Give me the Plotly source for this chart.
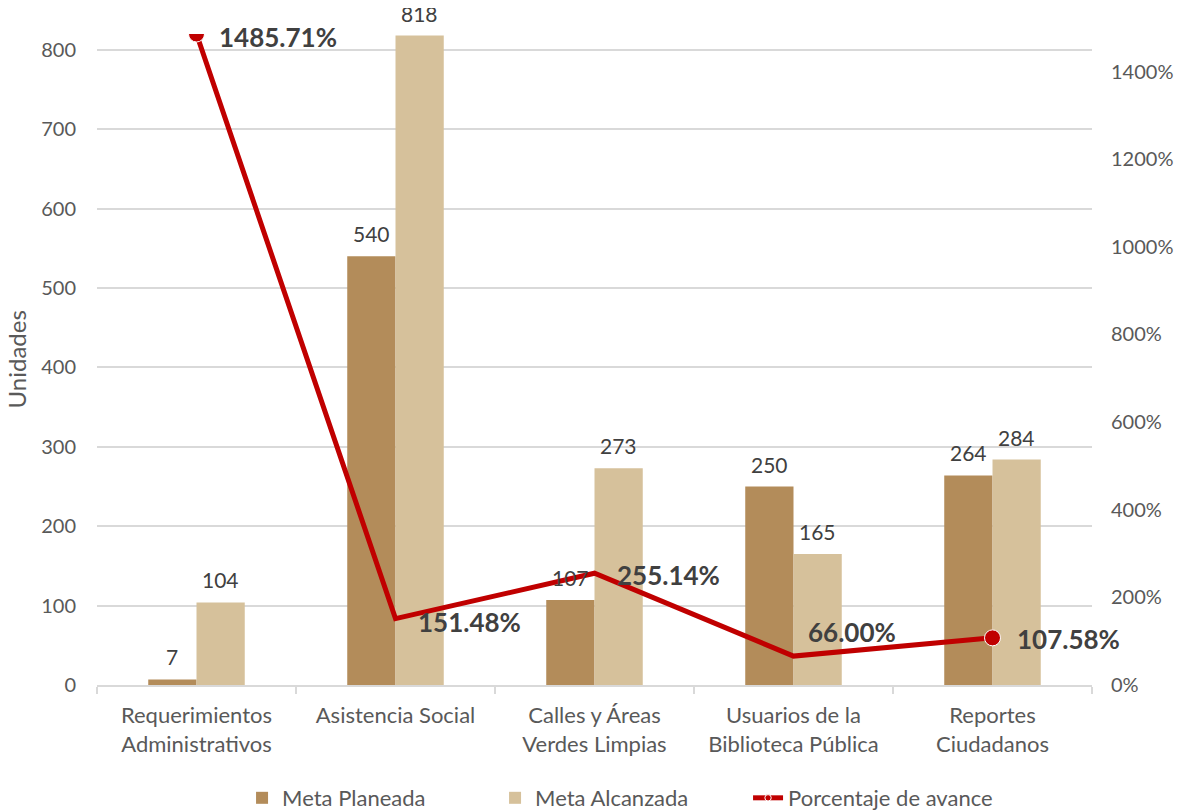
import plotly.graph_objects as go

categories = ["Requerimientos<br>Administrativos", "Asistencia Social",
              "Calles y Áreas<br>Verdes Limpias", "Usuarios de la<br>Biblioteca Pública",
              "Reportes<br>Ciudadanos"]
meta_planeada = [7, 540, 107, 250, 264]
meta_alcanzada = [104, 818, 273, 165, 284]
porcentaje = [1485.71, 151.48, 255.14, 66.00, 107.58]
pct_labels = ["1485.71%", "151.48%", "255.14%", "66.00%", "107.58%"]

# label offsets (pixels) for the percentage labels
lab_dx = [20, 20, 20, 12, 22]
lab_dy = [-3, -3, -2, 24, -1]
marker_sizes = [16, 0, 0, 0, 16]

FONT = "Lato"
GRAY = "#595959"
DARK = "#404040"
GRID = "#D9D9D9"
C_PLAN = "#B38C5A"
C_ALC = "#D6C19B"
C_RED = "#C00000"

W, H = 1196, 804
ML, MR, MT, MB = 89, 112, 26, 127
BARGAP = 0.515
cat_px = (W - ML - MR) / len(categories)
bar_off = cat_px * (1 - BARGAP) / 4

fig = go.Figure()
fig.add_trace(go.Bar(
    x=categories, y=meta_planeada, name="Meta Planeada",
    marker=dict(color=C_PLAN, line=dict(width=0)),
))
fig.add_trace(go.Bar(
    x=categories, y=meta_alcanzada, name="Meta Alcanzada",
    marker=dict(color=C_ALC, line=dict(width=0)),
))
fig.add_trace(go.Scatter(
    x=categories, y=porcentaje, name="Porcentaje de avance", yaxis="y2",
    mode="lines+markers",
    line=dict(color=C_RED, width=5),
    marker=dict(color=C_RED, size=marker_sizes, opacity=1),
    cliponaxis=True,
))

# bar value labels
for series, sign in ((meta_planeada, -1), (meta_alcanzada, 1)):
    for i in range(len(categories)):
        fig.add_annotation(
            x=categories[i], y=series[i], xref="x", yref="y",
            text=str(series[i]), showarrow=False,
            xanchor="center", yanchor="bottom", xshift=sign * bar_off, yshift=8,
            font=dict(family=FONT, size=21, color=DARK),
        )

for i in range(len(categories)):
    fig.add_annotation(
        x=categories[i], y=porcentaje[i], yref="y2", xref="x",
        text="<b>" + pct_labels[i] + "</b>", showarrow=False,
        xanchor="left", yanchor="middle", xshift=lab_dx[i], yshift=lab_dy[i],
        font=dict(family=FONT, size=26, color=DARK),
    )

# axis titles
fig.add_annotation(
    x=0.0, xref="paper", y=0.5, yref="paper", xshift=-81, text="Unidades",
    textangle=-90, showarrow=False, xanchor="center", yanchor="middle",
    font=dict(family=FONT, size=24, color=GRAY),
)
fig.add_annotation(
    x=1.0, xref="paper", y=0.5, yref="paper", xshift=106, text="Avance",
    textangle=-90, showarrow=False, xanchor="left", yanchor="middle",
    font=dict(family=FONT, size=24, color=GRAY),
)

fig.update_layout(
    width=W, height=H,
    margin=dict(l=ML, r=MR, t=MT, b=MB, autoexpand=False),
    paper_bgcolor="white", plot_bgcolor="white",
    barmode="group", bargap=BARGAP, bargroupgap=0,
    font=dict(family=FONT, size=22, color=GRAY),
    showlegend=True,
    legend=dict(orientation="h", x=0.513, xanchor="center", xref="container",
                y=0.0174, yanchor="middle", yref="container",
                font=dict(family=FONT, size=22, color=GRAY),
                traceorder="normal", itemwidth=30,
                entrywidth=208, entrywidthmode="pixels"),
    xaxis=dict(
        automargin=False, range=[-0.5, len(categories) - 0.5],
        showline=True, linecolor=GRID, linewidth=1.5,
        ticks="outside", tickson="boundaries", ticklen=7, tickcolor=GRID, tickwidth=1.5,
        tickfont=dict(family=FONT, size=22, color=GRAY),
        ticklabelstandoff=10, showgrid=False,
    ),
    yaxis=dict(
        automargin=False,
        range=[0, 820], dtick=100, showgrid=True, gridcolor=GRID, gridwidth=1.5,
        zeroline=False, showline=False, ticks="", ticklabelstandoff=20,
        tickfont=dict(family=FONT, size=20, color=GRAY),
    ),
    yaxis2=dict(
        automargin=False,
        overlaying="y", side="right", range=[0, 1485.71], dtick=200,
        ticksuffix="%", showgrid=False, zeroline=False, showline=False, ticks="",
        ticklabelstandoff=18,
        tickfont=dict(family=FONT, size=20, color=GRAY),
    ),
)

fig.write_html("out.html")
